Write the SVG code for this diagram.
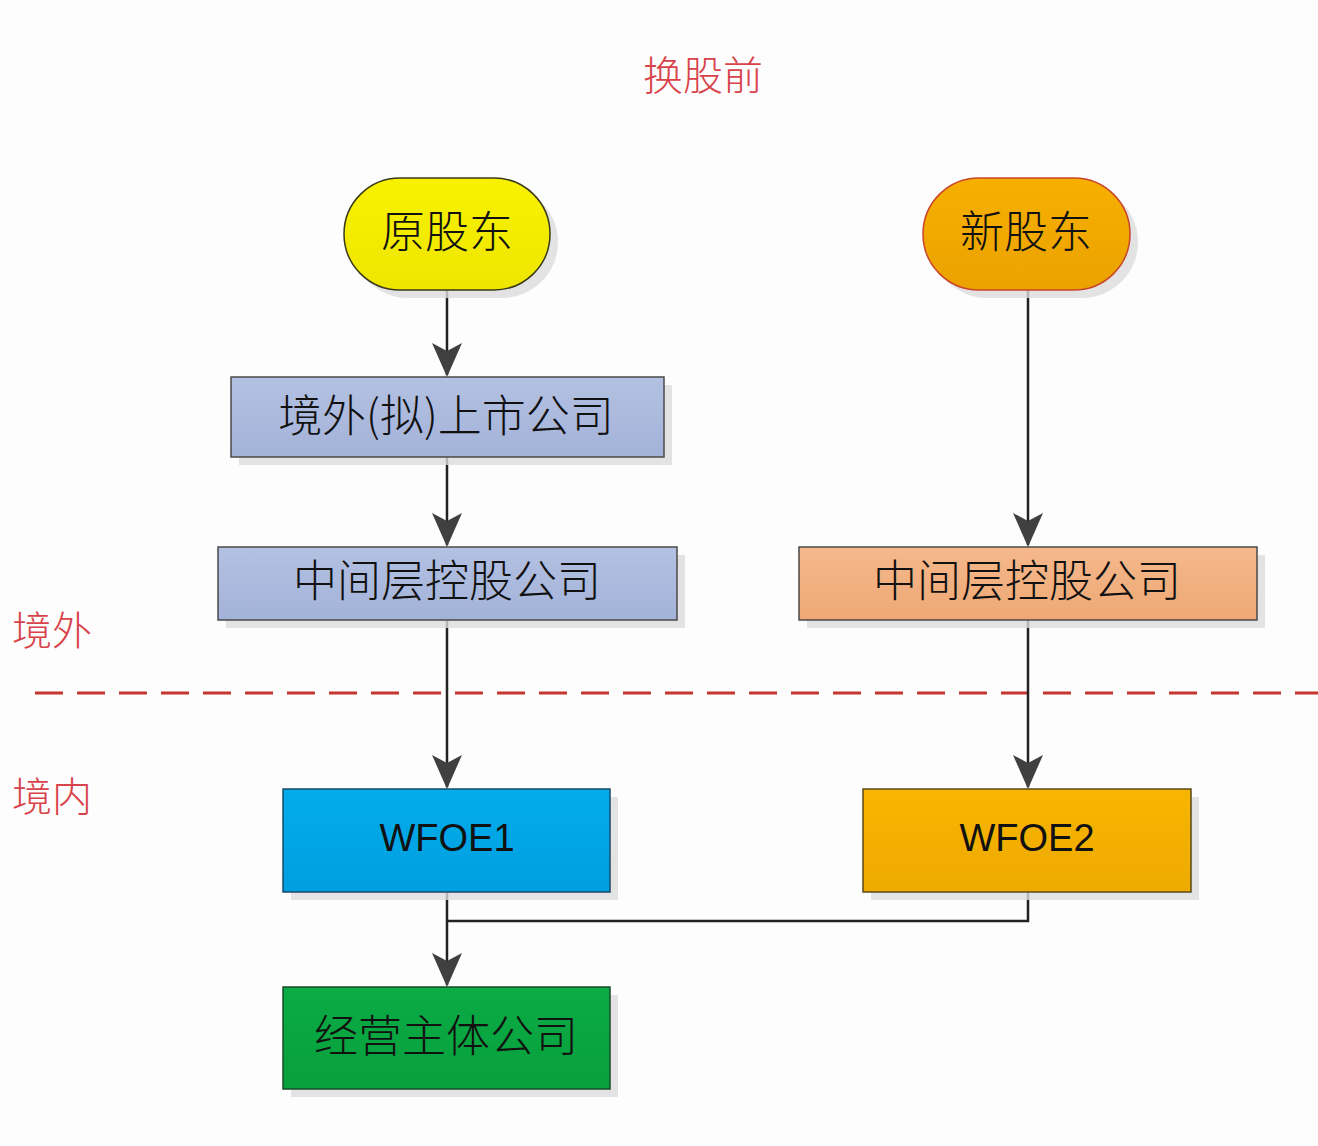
<svg xmlns="http://www.w3.org/2000/svg" width="1318" height="1146" viewBox="0 0 1318 1146">
<defs>
<style>
.cn{font-family:"Noto Sans CJK SC","Noto Sans",sans-serif;font-size:44px;font-weight:300;fill:#111;text-anchor:middle;dominant-baseline:central}
.en{font-family:"Liberation Sans","Noto Sans",sans-serif;font-size:38px;fill:#111;text-anchor:middle;dominant-baseline:central}
.red{font-family:"Noto Sans CJK SC",sans-serif;font-size:40px;fill:#d8434b;font-weight:300}
.sh{fill:#dcdcdc;opacity:0.8}
.conn{stroke:#222;stroke-width:2.5;fill:none}
</style>
<linearGradient id="gy" x1="0" y1="0" x2="0" y2="1"><stop offset="0" stop-color="#f8f200"/><stop offset="1" stop-color="#eee600"/></linearGradient>
<linearGradient id="go" x1="0" y1="0" x2="0" y2="1"><stop offset="0" stop-color="#f7b000"/><stop offset="1" stop-color="#eba200"/></linearGradient>
<linearGradient id="gb" x1="0" y1="0" x2="0" y2="1"><stop offset="0" stop-color="#b3c1e2"/><stop offset="1" stop-color="#a3b2d8"/></linearGradient>
<linearGradient id="gp" x1="0" y1="0" x2="0" y2="1"><stop offset="0" stop-color="#f5b88c"/><stop offset="1" stop-color="#eea874"/></linearGradient>
<linearGradient id="gc" x1="0" y1="0" x2="0" y2="1"><stop offset="0" stop-color="#03aceb"/><stop offset="1" stop-color="#009fdf"/></linearGradient>
<linearGradient id="gw" x1="0" y1="0" x2="0" y2="1"><stop offset="0" stop-color="#f8b500"/><stop offset="1" stop-color="#eeaa00"/></linearGradient>
<linearGradient id="gg" x1="0" y1="0" x2="0" y2="1"><stop offset="0" stop-color="#0bab45"/><stop offset="1" stop-color="#07a03c"/></linearGradient>
</defs>
<rect width="1318" height="1146" fill="#fdfdfd"/>
<text class="red" x="703" y="90" text-anchor="middle">换股前</text>
<text class="red" x="12" y="645">境外</text>
<text class="red" x="12" y="811">境内</text>
<line x1="35" y1="693" x2="1318" y2="693" stroke="#c4362e" stroke-width="3" stroke-dasharray="28,14"/>

<g id="connectors">
<path class="conn" d="M447,290 V375"/>
<path class="conn" d="M447,457 V545"/>
<path class="conn" d="M447,620 V787"/>
<path class="conn" d="M1028,290 V545"/>
<path class="conn" d="M1028,620 V787"/>
<path class="conn" d="M1028,892 V921 H447"/>
<path class="conn" d="M447,892 V985"/>
<g fill="#404040">
<path d="M432,343 L447,351 L462,343 L447,377 Z"/>
<path d="M432,513 L447,521 L462,513 L447,547 Z"/>
<path d="M432,755 L447,763 L462,755 L447,789 Z"/>
<path d="M1013,513 L1028,521 L1043,513 L1028,547 Z"/>
<path d="M1013,755 L1028,763 L1043,755 L1028,789 Z"/>
<path d="M432,953 L447,961 L462,953 L447,987 Z"/>
</g>
</g>

<g id="n-yuan">
<rect class="sh" x="352" y="186" width="206" height="112" rx="56"/>
<rect x="344" y="178" width="206" height="112" rx="56" fill="url(#gy)" stroke="#3a3a1a" stroke-width="1.5"/>
<text class="cn" x="447" y="229">原股东</text>
</g>
<g id="n-xin">
<rect class="sh" x="931" y="186" width="207" height="112" rx="56"/>
<rect x="923" y="178" width="207" height="112" rx="56" fill="url(#go)" stroke="#c8452a" stroke-width="1.5"/>
<text class="cn" x="1026" y="229">新股东</text>
</g>
<g id="n-listed">
<rect class="sh" x="239" y="385" width="433" height="80"/>
<rect x="231" y="377" width="433" height="80" fill="url(#gb)" stroke="#4a4a4a" stroke-width="1.5"/>
<text class="cn" x="446" y="413">境外(拟)上市公司</text>
</g>
<g id="n-mid1">
<rect class="sh" x="226" y="555" width="459" height="73"/>
<rect x="218" y="547" width="459" height="73" fill="url(#gb)" stroke="#4a4a4a" stroke-width="1.5"/>
<text class="cn" x="447" y="578">中间层控股公司</text>
</g>
<g id="n-mid2">
<rect class="sh" x="807" y="555" width="458" height="73"/>
<rect x="799" y="547" width="458" height="73" fill="url(#gp)" stroke="#4a4a4a" stroke-width="1.5"/>
<text class="cn" x="1027" y="578">中间层控股公司</text>
</g>
<g id="n-wfoe1">
<rect class="sh" x="291" y="797" width="327" height="103"/>
<rect x="283" y="789" width="327" height="103" fill="url(#gc)" stroke="#1a4a6a" stroke-width="1.5"/>
<text class="en" x="447" y="838">WFOE1</text>
</g>
<g id="n-wfoe2">
<rect class="sh" x="871" y="797" width="328" height="103"/>
<rect x="863" y="789" width="328" height="103" fill="url(#gw)" stroke="#5a4a1a" stroke-width="1.5"/>
<text class="en" x="1027" y="838">WFOE2</text>
</g>
<g id="n-op">
<rect class="sh" x="291" y="995" width="327" height="102"/>
<rect x="283" y="987" width="327" height="102" fill="url(#gg)" stroke="#1a4a2a" stroke-width="1.5"/>
<text class="cn" x="446" y="1033">经营主体公司</text>
</g>
</svg>
